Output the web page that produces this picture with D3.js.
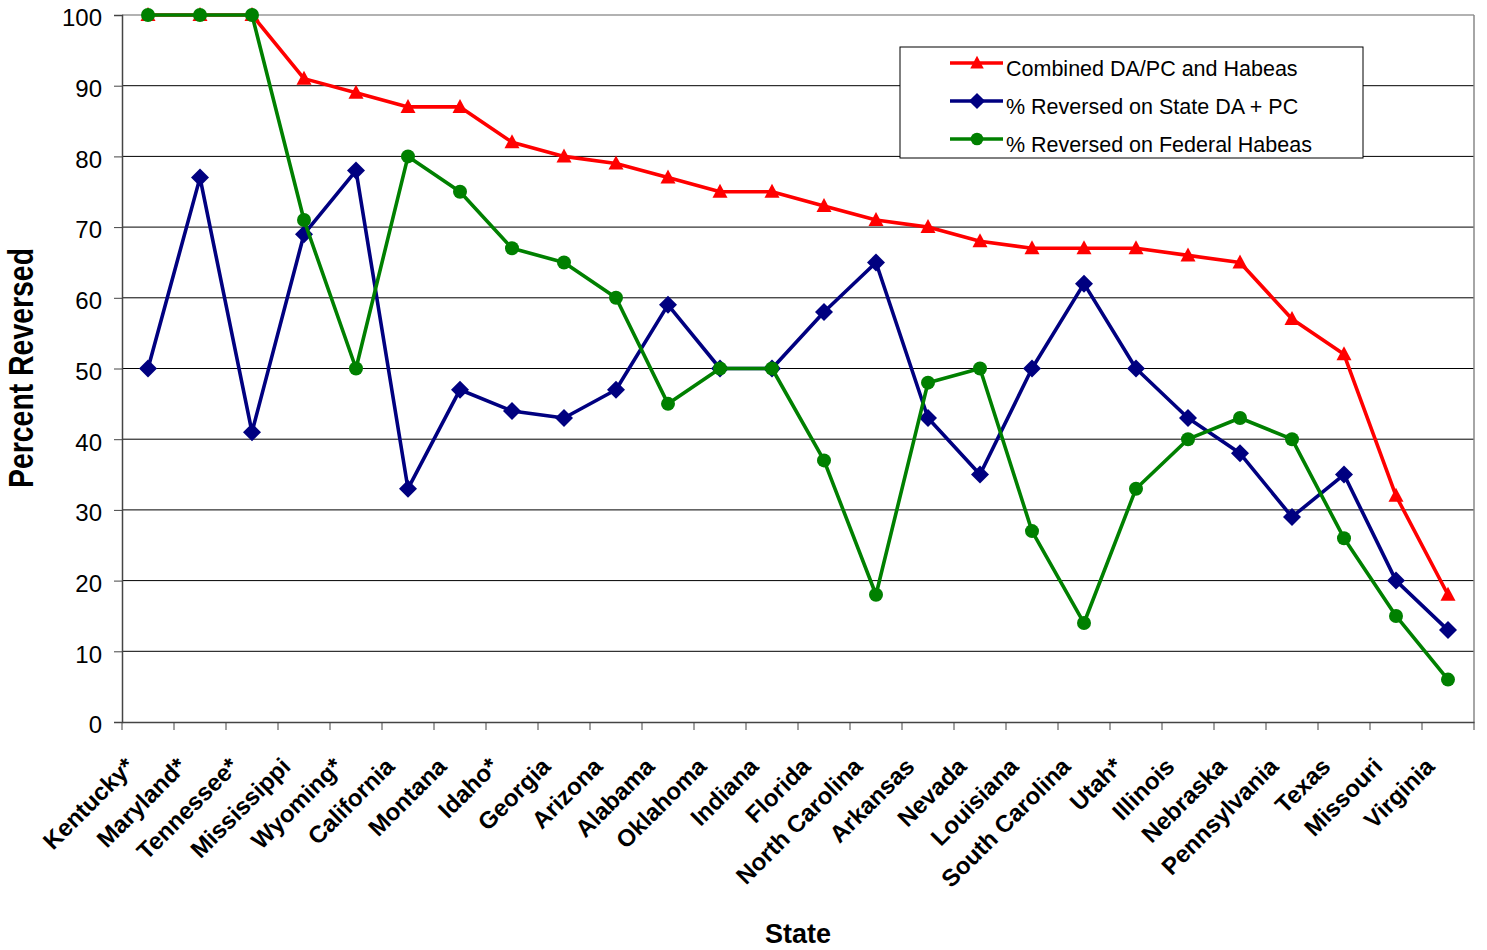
<!DOCTYPE html>
<html><head><meta charset="utf-8">
<script src="https://cdn.jsdelivr.net/npm/d3@7"></script>
<style>body{margin:0;background:#fff}svg{display:block;font-family:"Liberation Sans",Arial,sans-serif}</style>
</head><body><svg id="c" width="1487" height="950"></svg>
<script>
const states = ["Kentucky*","Maryland*","Tennessee*","Mississippi","Wyoming*","California","Montana","Idaho*","Georgia","Arizona","Alabama","Oklahoma","Indiana","Florida","North Carolina","Arkansas","Nevada","Louisiana","South Carolina","Utah*","Illinois","Nebraska","Pennsylvania","Texas","Missouri","Virginia"];
const combined = [100,100,100,91,89,87,87,82,80,79,77,75,75,73,71,70,68,67,67,67,66,65,57,52,32,18];
const stateDA = [50,77,41,69,78,33,47,44,43,47,59,50,50,58,65,43,35,50,62,50,43,38,29,35,20,13];
const federal = [100,100,100,71,50,80,75,67,65,60,45,50,50,37,18,48,50,27,14,33,40,43,40,26,15,6];
const yTicks = [0,10,20,30,40,50,60,70,80,90,100];
const seriesNames = ["Combined DA/PC and Habeas","% Reversed on State DA + PC","% Reversed on Federal Habeas"];

const svg = d3.select("#c");
const L=122, R=1474, T=15, B=722;
const x = d3.scaleBand().domain(states).range([L,R]);
const y = d3.scaleLinear().domain([0,100]).range([B,T]);

// gridlines
svg.append("g").selectAll("line").data(yTicks.filter(d=>d>0)).join("line")
  .attr("x1",L).attr("x2",R).attr("y1",d=>y(d)).attr("y2",d=>y(d))
  .attr("stroke",d=>d===100?"#999":"#000").attr("stroke-width",d=>d===100?1.5:1);
// right border
svg.append("line").attr("x1",R).attr("x2",R).attr("y1",T).attr("y2",B).attr("stroke","#888").attr("stroke-width",1.5);

// y axis
const ya = svg.append("g").attr("transform",`translate(${L},0)`)
  .call(d3.axisLeft(y).tickValues(yTicks).tickSize(8).tickPadding(12));
ya.select(".domain").attr("stroke","#444").attr("stroke-width",1.5);
ya.selectAll(".tick line").attr("stroke","#444");
ya.selectAll("text").attr("font-size",24).attr("fill","#000").attr("dy","0.45em")
  .attr("font-family","Liberation Sans, Arial, sans-serif");

// x axis
const xa = svg.append("g").attr("transform",`translate(0,${B})`)
  .call(d3.axisBottom(x).tickSize(0).tickFormat(""));
xa.select(".domain").attr("stroke","#444").attr("stroke-width",1.5);
xa.selectAll(".tick").remove();
svg.append("g").selectAll("line").data(states.concat(["__end"])).join("line")
  .attr("x1",(d,i)=>L+i*x.step()).attr("x2",(d,i)=>L+i*x.step())
  .attr("y1",B).attr("y2",B+8).attr("stroke","#444").attr("stroke-width",1);

svg.append("g").selectAll("text").data(states).join("text")
  .attr("transform",d=>`translate(${x(d)+x.bandwidth()/2-18},${B+40}) rotate(-45)`)
  .attr("text-anchor","end").attr("font-size",24).attr("font-weight","bold")
  .attr("dy","0.35em").text(d=>d);

// axis titles
svg.append("text").attr("transform",`translate(33,368) rotate(-90)`)
  .attr("text-anchor","middle").attr("font-size",35).attr("font-weight","bold")
  .attr("textLength",240).attr("lengthAdjust","spacingAndGlyphs").text("Percent Reversed");
svg.append("text").attr("x",798).attr("y",943).attr("text-anchor","middle")
  .attr("font-size",27).attr("font-weight","bold").text("State");

const cx = d=>x(d)+x.bandwidth()/2;
const line = d3.line().x((v,i)=>cx(states[i])).y(v=>y(v));
const colors = ["#ff0000","#000080","#008000"];
const data = [combined, stateDA, federal];
const triPath = "M0,-8L7.5,6L-7.5,6Z";
const diaPath = "M0,-9L9,0L0,9L-9,0Z";

function marker(g, k, px, py, s){
  s = s||1;
  if(k===0) g.append("path").attr("d",triPath).attr("transform",`translate(${px},${py}) scale(${s})`).attr("fill",colors[k]);
  else if(k===1) g.append("path").attr("d",diaPath).attr("transform",`translate(${px},${py}) scale(${s})`).attr("fill",colors[k]);
  else g.append("circle").attr("cx",px).attr("cy",py).attr("r",7*s).attr("fill",colors[k]);
}

data.forEach((vals,k)=>{
  const g = svg.append("g");
  g.append("path").datum(vals).attr("d",line).attr("fill","none")
    .attr("stroke",colors[k]).attr("stroke-width",3.6).attr("stroke-linejoin","round");
  vals.forEach((v,i)=>marker(g,k,cx(states[i]),y(v)));
});

// legend
const lg = svg.append("g");
lg.append("rect").attr("x",900).attr("y",47).attr("width",463).attr("height",111)
  .attr("fill","#fff").attr("stroke","#000").attr("stroke-width",1);
[63,101,139].forEach((ly,k)=>{
  lg.append("line").attr("x1",950).attr("x2",1003).attr("y1",ly).attr("y2",ly)
    .attr("stroke",colors[k]).attr("stroke-width",3.6);
  marker(lg,k,977,ly,0.9);
  lg.append("text").attr("x",1006).attr("y",ly+5).attr("dy","0.35em")
    .attr("font-size",21.5).text(seriesNames[k]);
});
</script></body></html>
